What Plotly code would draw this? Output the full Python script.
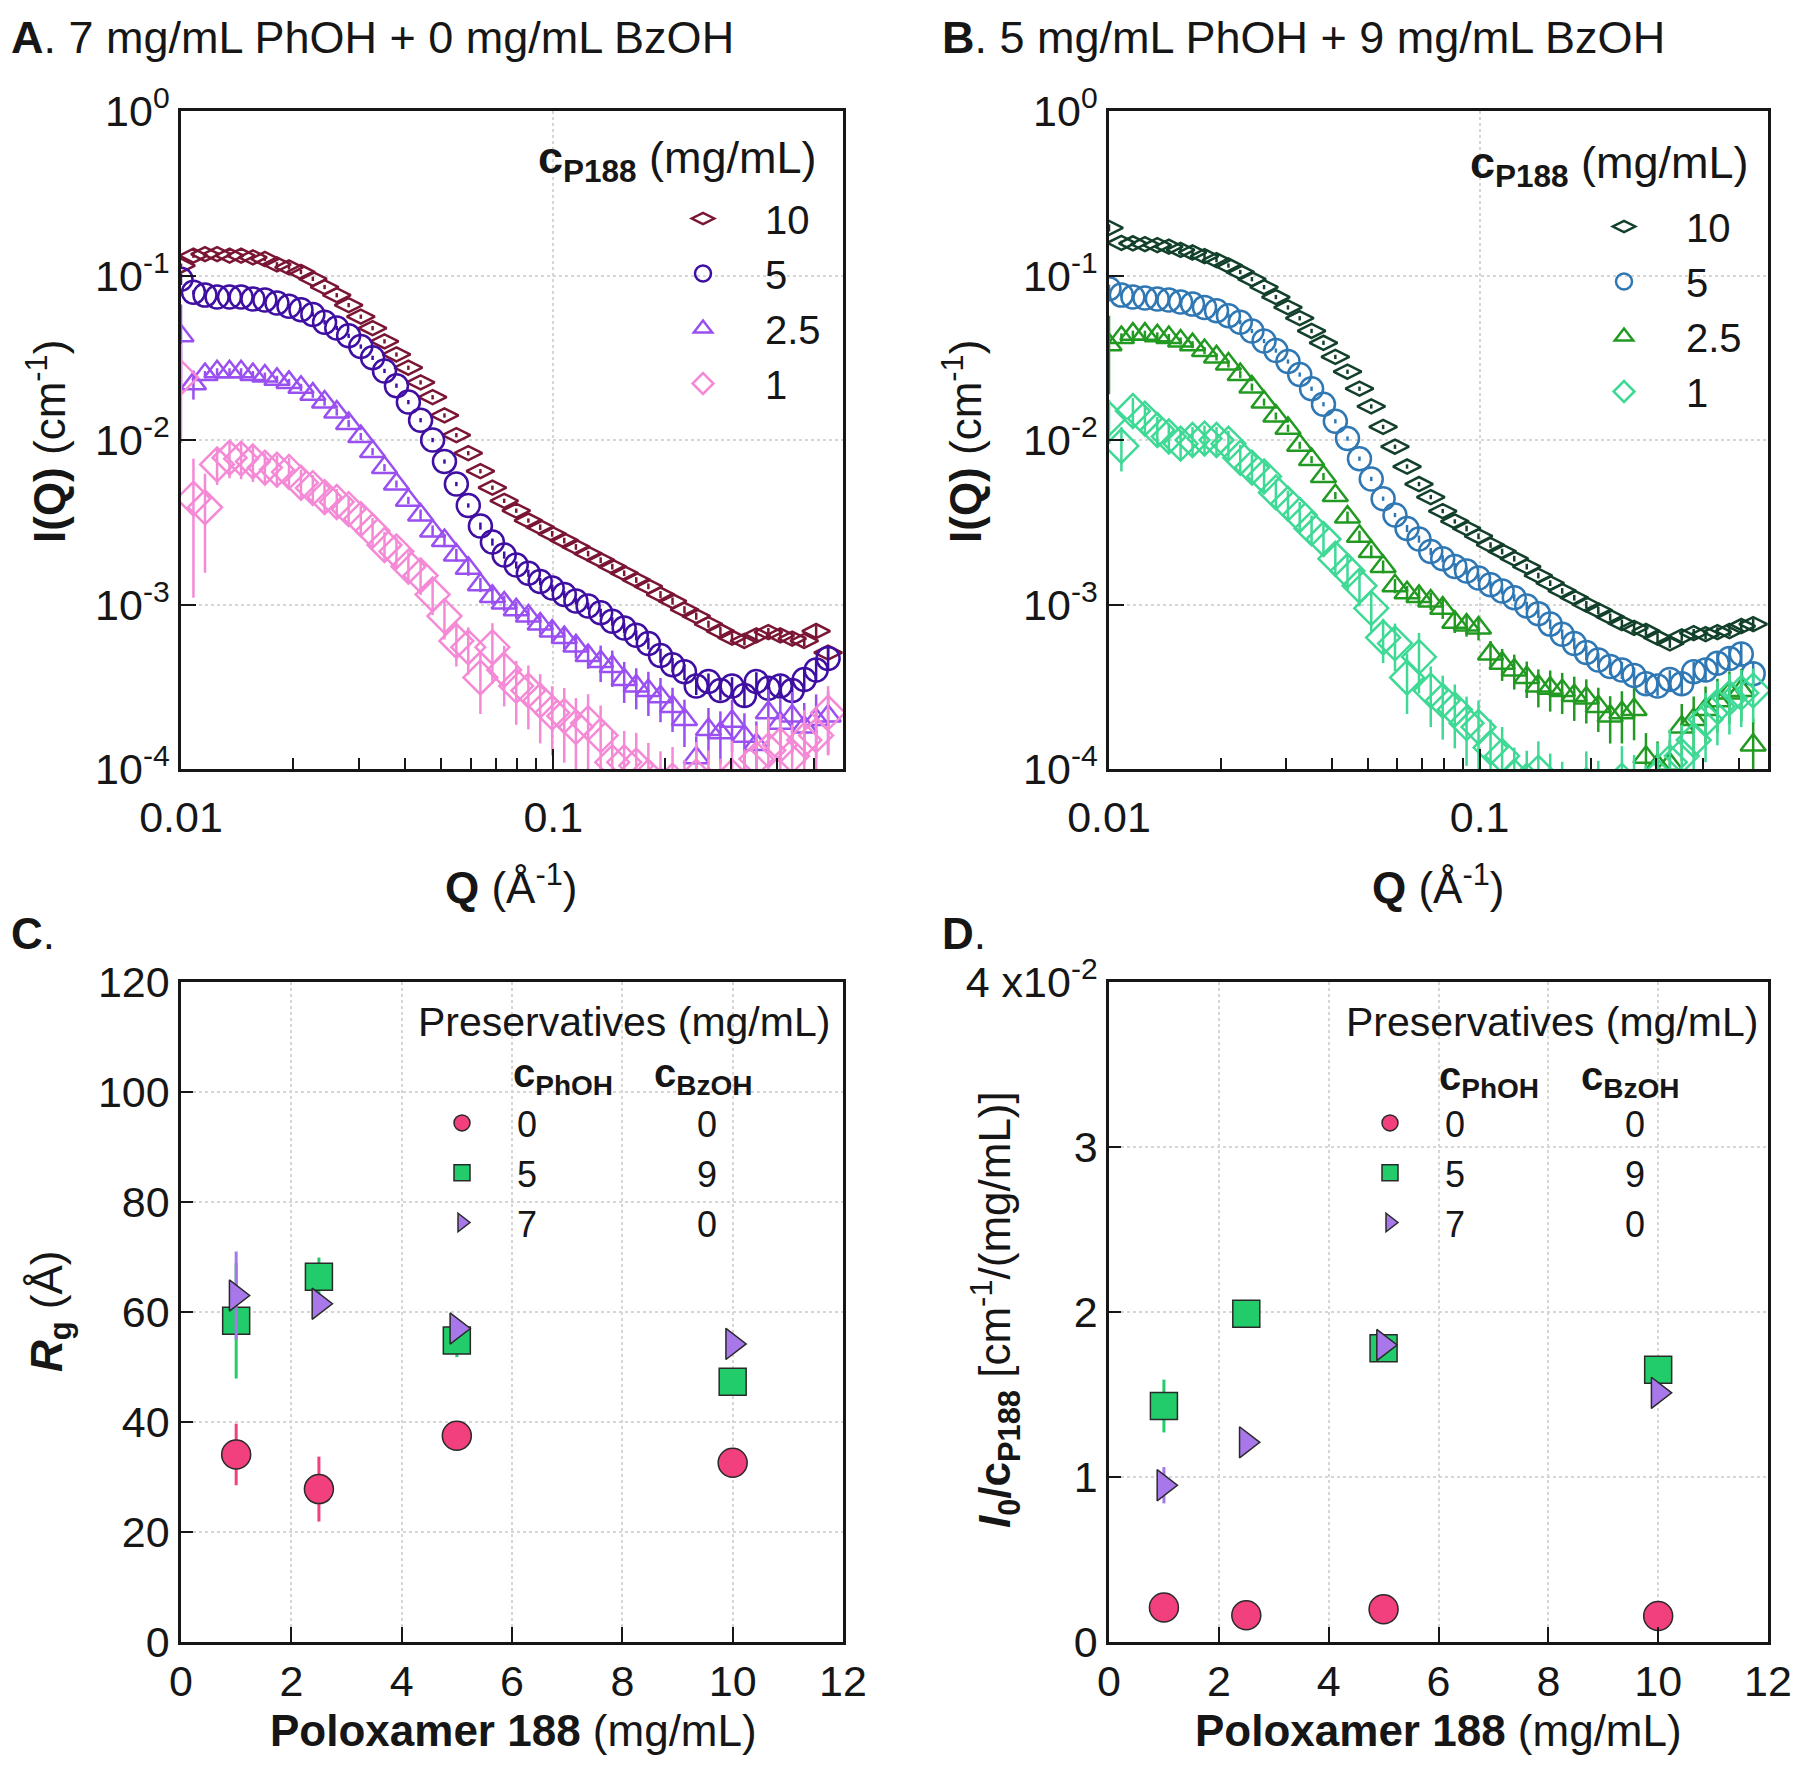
import plotly.graph_objects as go

# ---------------- data ----------------
q_values = [0.0100, 0.0108, 0.0116, 0.0125, 0.0135, 0.0145, 0.0156, 0.0168, 0.0181, 0.0195,
            0.0210, 0.0226, 0.0243, 0.0262, 0.0282, 0.0304, 0.0327, 0.0352, 0.0379, 0.0408,
            0.0440, 0.0474, 0.0510, 0.0549, 0.0591, 0.0637, 0.0686, 0.0738, 0.0795, 0.0857,
            0.0922, 0.0993, 0.107, 0.115, 0.124, 0.134, 0.144, 0.155, 0.167, 0.180,
            0.194, 0.209, 0.225, 0.242, 0.261, 0.281, 0.302, 0.326, 0.351, 0.378,
            0.407, 0.438, 0.472, 0.508, 0.547]

# panel A: 7 mg/mL PhOH + 0 mg/mL BzOH
a_i10 = [0.115, 0.132, 0.135, 0.135, 0.132, 0.132, 0.129, 0.126, 0.117, 0.112,
         0.105, 0.0955, 0.0851, 0.0759, 0.0661, 0.0562, 0.0479, 0.0398, 0.0331, 0.0275,
         0.0224, 0.0182, 0.0141, 0.0107, 0.00832, 0.00646, 0.00513, 0.00427, 0.00372, 0.00324,
         0.00295, 0.00269, 0.00245, 0.00224, 0.00204, 0.00186, 0.00170, 0.00155, 0.00141, 0.00129,
         0.00115, 0.00105, 0.00093, 0.00085, 0.00076, 0.00069, 0.00063, 0.00060, 0.00065, 0.00068,
         0.00065, 0.00062, 0.00060, 0.00069, 0.00051]
a_i5 = [0.095, 0.079, 0.076, 0.074, 0.074, 0.074, 0.072, 0.071, 0.068, 0.065,
        0.062, 0.058, 0.052, 0.048, 0.043, 0.037, 0.0316, 0.0263, 0.0214, 0.0170,
        0.0132, 0.0100, 0.0074, 0.0054, 0.0040, 0.0030, 0.0024, 0.0020, 0.00174, 0.00155,
        0.00138, 0.00126, 0.00115, 0.00105, 0.00098, 0.00089, 0.00079, 0.00072, 0.00065, 0.00058,
        0.00049, 0.00043, 0.00039, 0.00032, 0.00034, 0.00030, 0.00032, 0.00028, 0.00034, 0.00031,
        0.00032, 0.00030, 0.00035, 0.00040, 0.00047]
a_i25 = [0.043, 0.022, 0.025, 0.026, 0.026, 0.026, 0.025, 0.0245, 0.0234, 0.0224,
         0.0209, 0.0190, 0.0170, 0.0148, 0.0126, 0.0105, 0.0085, 0.0068, 0.0054, 0.0043,
         0.0035, 0.0028, 0.00245, 0.0020, 0.00166, 0.00132, 0.00112, 0.00102, 0.00093, 0.00085,
         0.00076, 0.00069, 0.00063, 0.00056, 0.00049, 0.00045, 0.00042, 0.00035, 0.00032, 0.00030,
         0.000275, 0.00024, 0.00020, 0.000117, 0.000174, 0.000166, 0.000195, 0.000158, 0.000141, 0.00022,
         0.00019, 0.00021, 0.00018, 0.00020, 0.00021]
a_i1 = [0.024, 0.0044, 0.0039, 0.0071, 0.0078, 0.0077, 0.0074, 0.0068, 0.0066, 0.0064,
        0.0055, 0.0051, 0.0045, 0.0042, 0.0038, 0.0033, 0.0028, 0.0023, 0.0021, 0.0017,
        0.0015, 0.00115, 0.00085, 0.00060, 0.00055, 0.00036, 0.00055, 0.00040, 0.00032, 0.00030,
        0.00026, 0.00022, 0.00021, 0.00018, 0.00019, 0.00016, 0.00011, 0.00011, 0.000105, 0.00009,
        0.00008, 0.000085, 0.00007, 0.00009, 0.00008, 0.00007, 0.00009, 0.00008, 0.000115, 0.00013,
        0.00014, 0.00012, 0.00015, 0.00016, 0.00022]

# relative error of each point
a_rel10 = [0.03, 0.03, 0.03, 0.03, 0.03, 0.03, 0.03, 0.03, 0.03, 0.03,
           0.03, 0.03, 0.03, 0.03, 0.03, 0.03, 0.03, 0.03, 0.03, 0.03,
           0.03, 0.03, 0.03, 0.03, 0.03, 0.03, 0.03, 0.03, 0.03, 0.03,
           0.04, 0.04, 0.04, 0.04, 0.04, 0.04, 0.04, 0.04, 0.04, 0.04,
           0.05, 0.05, 0.05, 0.05, 0.05, 0.06, 0.06, 0.06, 0.06, 0.06,
           0.07, 0.07, 0.07, 0.08, 0.08]
a_rel5 = [0.08, 0.03, 0.03, 0.03, 0.03, 0.03, 0.03, 0.03, 0.03, 0.03,
          0.03, 0.03, 0.03, 0.03, 0.03, 0.03, 0.03, 0.03, 0.03, 0.03,
          0.03, 0.03, 0.03, 0.03, 0.03, 0.05, 0.05, 0.05, 0.05, 0.05,
          0.05, 0.05, 0.05, 0.05, 0.05, 0.06, 0.06, 0.07, 0.07, 0.08,
          0.10, 0.10, 0.11, 0.12, 0.12, 0.13, 0.13, 0.14, 0.14, 0.15,
          0.15, 0.15, 0.16, 0.16, 0.16]
a_rel25 = [0.55, 0.20, 0.05, 0.05, 0.05, 0.05, 0.05, 0.05, 0.05, 0.05,
           0.05, 0.05, 0.05, 0.05, 0.05, 0.05, 0.05, 0.05, 0.05, 0.05,
           0.08, 0.08, 0.09, 0.09, 0.10, 0.10, 0.11, 0.11, 0.12, 0.12,
           0.13, 0.14, 0.15, 0.16, 0.17, 0.25, 0.25, 0.28, 0.28, 0.30,
           0.30, 0.30, 0.32, 0.35, 0.35, 0.35, 0.35, 0.38, 0.38, 0.38,
           0.40, 0.40, 0.40, 0.42, 0.42]
a_rel1 = [0.60, 0.75, 0.60, 0.25, 0.25, 0.25, 0.25, 0.22, 0.22, 0.22,
          0.20, 0.20, 0.20, 0.20, 0.20, 0.20, 0.20, 0.20, 0.22, 0.22,
          0.24, 0.25, 0.28, 0.30, 0.32, 0.40, 0.40, 0.40, 0.42, 0.42,
          0.45, 0.45, 0.48, 0.50, 0.50, 0.52, 0.55, 0.55, 0.58, 0.60,
          0.60, 0.60, 0.62, 0.62, 0.62, 0.65, 0.65, 0.65, 0.60, 0.58,
          0.55, 0.55, 0.52, 0.50, 0.45]

# panel B: 5 mg/mL PhOH + 9 mg/mL BzOH
b_i10 = [0.195, 0.158, 0.157, 0.155, 0.153, 0.150, 0.143, 0.138, 0.131, 0.124,
         0.115, 0.105, 0.095, 0.085, 0.074, 0.064, 0.055, 0.046, 0.039, 0.032,
         0.026, 0.0205, 0.0160, 0.0120, 0.0091, 0.0069, 0.0054, 0.0045, 0.0037, 0.0032,
         0.0029, 0.0026, 0.0023, 0.0021, 0.0019, 0.0017, 0.0015, 0.00135, 0.00121, 0.00110,
         0.00100, 0.00092, 0.00084, 0.00077, 0.00072, 0.00069, 0.00063, 0.00058, 0.00064, 0.00067,
         0.00066, 0.00068, 0.00069, 0.00074, 0.00076]
b_i5 = [0.083, 0.076, 0.074, 0.073, 0.072, 0.071, 0.069, 0.067, 0.064, 0.061,
        0.057, 0.052, 0.046, 0.040, 0.035, 0.030, 0.025, 0.0205, 0.0165, 0.0130,
        0.0102, 0.0077, 0.0058, 0.0044, 0.0035, 0.0029, 0.0025, 0.0021, 0.0019, 0.0017,
        0.0016, 0.00145, 0.00132, 0.00121, 0.00110, 0.00098, 0.00088, 0.00076, 0.00066, 0.00058,
        0.00051, 0.00046, 0.00042, 0.00040, 0.00037, 0.00033, 0.00032, 0.00035, 0.00033, 0.00039,
        0.00040, 0.00044, 0.00047, 0.00050, 0.00038]
b_i25 = [0.038, 0.042, 0.044, 0.044, 0.043, 0.042, 0.040, 0.038, 0.035, 0.032,
         0.029, 0.025, 0.021, 0.017, 0.0140, 0.0118, 0.0093, 0.0076, 0.0060, 0.0046,
         0.0034, 0.0026, 0.0021, 0.0017, 0.0013, 0.00118, 0.00112, 0.00105, 0.00095, 0.00078,
         0.00075, 0.00072, 0.00050, 0.00044, 0.00040, 0.00036, 0.00032, 0.00031, 0.00030, 0.00028,
         0.00027, 0.00024, 0.00021, 0.00022, 0.00023, 0.000118, 0.000105, 0.000107, 0.00018, 0.00020,
         0.00023, 0.00026, 0.00029, 0.00030, 0.00014]
b_i1 = [0.0135, 0.0092, 0.0150, 0.0135, 0.0115, 0.0105, 0.0095, 0.0100, 0.0102, 0.0100,
        0.0095, 0.0078, 0.0068, 0.0060, 0.0048, 0.0041, 0.0035, 0.0029, 0.0025, 0.0019,
        0.0016, 0.0013, 0.00095, 0.00063, 0.00058, 0.00036, 0.00048, 0.00030, 0.00026, 0.00023,
        0.00019, 0.00018, 0.000135, 0.000120, 0.000090, 0.000085, 0.000095, 0.000080, 0.000070, 0.000060,
        0.000080, 0.000070, 0.000060, 0.000085, 0.000075, 0.000065, 0.000090, 0.000110, 0.000120, 0.000150,
        0.000200, 0.000240, 0.000270, 0.000290, 0.000300]

b_rel10 = [0.05, 0.03, 0.03, 0.03, 0.03, 0.03, 0.03, 0.03, 0.03, 0.03,
           0.03, 0.03, 0.03, 0.03, 0.03, 0.03, 0.03, 0.03, 0.03, 0.03,
           0.03, 0.03, 0.03, 0.03, 0.03, 0.03, 0.03, 0.03, 0.03, 0.03,
           0.04, 0.04, 0.04, 0.04, 0.04, 0.04, 0.04, 0.04, 0.04, 0.04,
           0.05, 0.05, 0.05, 0.05, 0.05, 0.06, 0.06, 0.06, 0.06, 0.06,
           0.07, 0.07, 0.07, 0.08, 0.08]
b_rel5 = [0.06, 0.03, 0.03, 0.03, 0.03, 0.03, 0.03, 0.03, 0.03, 0.03,
          0.03, 0.03, 0.03, 0.03, 0.03, 0.03, 0.03, 0.03, 0.03, 0.03,
          0.03, 0.03, 0.03, 0.03, 0.03, 0.05, 0.05, 0.05, 0.05, 0.05,
          0.05, 0.05, 0.05, 0.05, 0.05, 0.06, 0.06, 0.07, 0.07, 0.08,
          0.10, 0.10, 0.11, 0.12, 0.12, 0.13, 0.13, 0.14, 0.14, 0.15,
          0.15, 0.15, 0.16, 0.16, 0.18]
b_rel25 = [0.50, 0.06, 0.05, 0.05, 0.05, 0.05, 0.05, 0.05, 0.05, 0.05,
           0.05, 0.05, 0.05, 0.05, 0.05, 0.05, 0.05, 0.05, 0.05, 0.05,
           0.08, 0.08, 0.09, 0.09, 0.10, 0.10, 0.12, 0.12, 0.14, 0.14,
           0.15, 0.16, 0.20, 0.22, 0.24, 0.25, 0.26, 0.28, 0.28, 0.30,
           0.30, 0.30, 0.32, 0.35, 0.35, 0.40, 0.40, 0.40, 0.38, 0.38,
           0.38, 0.36, 0.35, 0.35, 0.45]
b_rel1 = [0.30, 0.30, 0.20, 0.20, 0.20, 0.20, 0.20, 0.20, 0.20, 0.20,
          0.20, 0.20, 0.20, 0.20, 0.20, 0.20, 0.20, 0.20, 0.22, 0.22,
          0.24, 0.25, 0.28, 0.30, 0.32, 0.40, 0.40, 0.40, 0.42, 0.42,
          0.45, 0.45, 0.48, 0.50, 0.50, 0.52, 0.55, 0.55, 0.58, 0.60,
          0.60, 0.60, 0.62, 0.62, 0.62, 0.62, 0.60, 0.58, 0.55, 0.50,
          0.45, 0.42, 0.40, 0.38, 0.36]

# panels C and D: fitted parameters versus poloxamer 188 concentration
p188_conc = [1, 2.5, 5, 10]
rg_phoh0_bzoh0 = [34.1, 27.8, 37.5, 32.6]
rg_phoh0_bzoh0_err = [5.6, 5.9, 0.8, 0.8]
rg_phoh5_bzoh9 = [58.4, 66.4, 54.8, 47.3]
rg_phoh5_bzoh9_err = [10.5, 3.5, 3.0, 1.0]
rg_phoh7_bzoh0 = [63.0, 61.5, 57.0, 54.2]
rg_phoh7_bzoh0_err = [8.0, 1.5, 1.0, 0.8]

i0c_phoh0_bzoh0 = [0.209, 0.162, 0.199, 0.158]
i0c_phoh0_bzoh0_err = [0.01, 0.01, 0.01, 0.01]
i0c_phoh5_bzoh9 = [1.43, 1.99, 1.78, 1.65]
i0c_phoh5_bzoh9_err = [0.16, 0.03, 0.03, 0.02]
i0c_phoh7_bzoh0 = [0.95, 1.21, 1.80, 1.51]
i0c_phoh7_bzoh0_err = [0.11, 0.02, 0.03, 0.02]

# ---------------- styling ----------------
# the page body keeps its default 8 px margin, so the figure is made 16 px
# smaller and all positions below are given in window pixels
OFF = 8
W, H = 1800 - 2 * OFF, 1787 - 2 * OFF
FONT = "Liberation Sans, Arial, sans-serif"
INK = "#161616"


def px_x(x):
    return (x - OFF) / W


def px_y(y):
    return 1 - (y - OFF) / H


def saxs(q, inten, rel, name, symbol, size, color, xa, ya, legend):
    return go.Scatter(
        x=q, y=inten, mode="markers", name=name, legend=legend, xaxis=xa, yaxis=ya,
        marker=dict(symbol=symbol, size=size, color=color, line=dict(color=color, width=2.5)),
        error_y=dict(type="data", array=[v * r for v, r in zip(inten, rel)],
                     color=color, thickness=2.5, width=0),
    )


def fitted(y, err, name, symbol, size, color, xa, ya, legend):
    return go.Scatter(
        x=p188_conc, y=y, mode="markers", name=name, legend=legend, xaxis=xa, yaxis=ya,
        marker=dict(symbol=symbol, size=size, color=color, line=dict(color="#2a2a2a", width=1.5)),
        error_y=dict(type="data", array=err, color=color, thickness=3, width=0),
    )


fig = go.Figure()

# A
fig.add_trace(saxs(q_values, a_i10, a_rel10, "10", "diamond-wide-open", 20, "#7a1634", "x", "y", "legend"))
fig.add_trace(saxs(q_values, a_i5, a_rel5, "5", "circle-open", 23, "#3f0ea2", "x", "y", "legend"))
fig.add_trace(saxs(q_values, a_i25, a_rel25, "2.5", "triangle-up-open", 22, "#9a4ff0", "x", "y", "legend"))
fig.add_trace(saxs(q_values, a_i1, a_rel1, "1", "diamond-open", 26, "#f48ad6", "x", "y", "legend"))

# B
fig.add_trace(saxs(q_values, b_i10, b_rel10, "10", "diamond-wide-open", 20, "#12402a", "x2", "y2", "legend2"))
fig.add_trace(saxs(q_values, b_i5, b_rel5, "5", "circle-open", 23, "#2f78b4", "x2", "y2", "legend2"))
fig.add_trace(saxs(q_values, b_i25, b_rel25, "2.5", "triangle-up-open", 22, "#229a22", "x2", "y2", "legend2"))
fig.add_trace(saxs(q_values, b_i1, b_rel1, "1", "diamond-open", 26, "#3ed995", "x2", "y2", "legend2"))

gap = "\u00a0" * 16
# C
fig.add_trace(fitted(rg_phoh0_bzoh0, rg_phoh0_bzoh0_err, "0" + gap + "0", "circle", 29, "#f23f7e", "x3", "y3", "legend3"))
fig.add_trace(fitted(rg_phoh5_bzoh9, rg_phoh5_bzoh9_err, "5" + gap + "9", "square", 27, "#22cc6a", "x3", "y3", "legend3"))
fig.add_trace(fitted(rg_phoh7_bzoh0, rg_phoh7_bzoh0_err, "7" + gap + "0", "triangle-right", 27, "#a878ea", "x3", "y3", "legend3"))
# D
fig.add_trace(fitted(i0c_phoh0_bzoh0, i0c_phoh0_bzoh0_err, "0" + gap + "0", "circle", 29, "#f23f7e", "x4", "y4", "legend4"))
fig.add_trace(fitted(i0c_phoh5_bzoh9, i0c_phoh5_bzoh9_err, "5" + gap + "9", "square", 27, "#22cc6a", "x4", "y4", "legend4"))
fig.add_trace(fitted(i0c_phoh7_bzoh0, i0c_phoh7_bzoh0_err, "7" + gap + "0", "triangle-right", 27, "#a878ea", "x4", "y4", "legend4"))

base_axis = dict(
    showline=True, linecolor=INK, linewidth=2.5, mirror=True,
    ticks="inside", tickcolor=INK, tickwidth=2,
    showgrid=True, gridcolor="#d6d6d6", griddash="dot", gridwidth=1.5,
    zeroline=False, automargin=False, tickfont=dict(size=43, color=INK, family=FONT),
)

col_left = [px_x(181), px_x(843)]
col_right = [px_x(1109), px_x(1768)]
row_top = [px_y(769), px_y(111)]
row_bot = [px_y(1642), px_y(982)]

q_minor = [0.02, 0.03, 0.04, 0.05, 0.06, 0.07, 0.08, 0.09, 0.2, 0.3, 0.4, 0.5]
log_x = dict(base_axis, type="log", range=[-2, -0.222], tickmode="array",
             tickvals=[0.01, 0.1], ticktext=["0.01", "0.1"], ticklen=20, ticklabelstandoff=9,
             minor=dict(ticks="inside", ticklen=11, tickwidth=2, tickcolor=INK,
                        tickvals=q_minor, showgrid=False))
log_y = dict(base_axis, type="log", range=[-4, 0], tickmode="array",
             tickvals=[1, 0.1, 0.01, 0.001, 0.0001],
             ticktext=["10<sup>0</sup>", "10<sup>-1</sup>", "10<sup>-2</sup>", "10<sup>-3</sup>", "10<sup>-4</sup>"],
             ticklen=15, ticklabelstandoff=0)
lin_x = dict(base_axis, range=[0, 12], tickmode="array", tickvals=[0, 2, 4, 6, 8, 10, 12],
             ticklen=15, ticklabelstandoff=0)

fig.update_layout(
    width=W, height=H, autosize=False,
    margin=dict(l=0, r=0, t=0, b=0, pad=0, autoexpand=False),
    paper_bgcolor="white", plot_bgcolor="white",
    font=dict(family=FONT, color=INK, size=40),
    xaxis=dict(log_x, domain=col_left, anchor="y"),
    yaxis=dict(log_y, domain=row_top, anchor="x"),
    xaxis2=dict(log_x, domain=col_right, anchor="y2"),
    yaxis2=dict(log_y, domain=row_top, anchor="x2"),
    xaxis3=dict(lin_x, domain=col_left, anchor="y3"),
    yaxis3=dict(base_axis, domain=row_bot, anchor="x3", range=[0, 120], tickmode="array",
                tickvals=[0, 20, 40, 60, 80, 100, 120], ticklen=12, ticklabelstandoff=0),
    xaxis4=dict(lin_x, domain=col_right, anchor="y4"),
    yaxis4=dict(base_axis, domain=row_bot, anchor="x4", range=[0, 4], tickmode="array",
                tickvals=[0, 1, 2, 3, 4], ticktext=["0", "1", "2", "3", "4 x10<sup>-2</sup>"],
                ticklen=12, ticklabelstandoff=0),
)

legend_common = dict(xanchor="left", yanchor="top", bgcolor="rgba(0,0,0,0)",
                     tracegroupgap=0, traceorder="normal")
fig.update_layout(
    legend=dict(legend_common, x=px_x(641), y=px_y(186), itemwidth=114,
                font=dict(size=40, family=FONT, color=INK)),
    legend2=dict(legend_common, x=px_x(1562), y=px_y(194), itemwidth=114,
                 font=dict(size=40, family=FONT, color=INK)),
    legend3=dict(legend_common, x=px_x(407), y=px_y(1093), itemwidth=100,
                 font=dict(size=36, family=FONT, color=INK)),
    legend4=dict(legend_common, x=px_x(1335), y=px_y(1093), itemwidth=100,
                 font=dict(size=36, family=FONT, color=INK)),
)


def note(text, x, y, size, xanchor="left", angle=0):
    return dict(text=text, x=px_x(x), y=px_y(y), xref="paper", yref="paper", showarrow=False,
                xanchor=xanchor, yanchor="middle", textangle=angle,
                font=dict(size=size, family=FONT, color=INK))


cp188 = "<b>c</b><sub><b>P188</b></sub> (mg/mL)"
iq_title = "<b>I(Q)</b> (cm<sup>-1</sup>)"
q_title = "<b>Q</b> (Å<sup>-1</sup>)"
p_title = "<b>Poloxamer 188</b> (mg/mL)"
annotations = [
    note("<b>A</b>. 7 mg/mL PhOH + 0 mg/mL BzOH", 9, 38, 45),
    note("<b>B</b>. 5 mg/mL PhOH + 9 mg/mL BzOH", 940, 38, 45),
    note("<b>C</b>.", 9, 934, 44),
    note("<b>D</b>.", 940, 934, 44),
    note(iq_title, 46, 442, 44, "center", -90),
    note(iq_title, 962, 442, 44, "center", -90),
    note(q_title, 512, 884, 44, "center"),
    note(q_title, 1438, 884, 44, "center"),
    note("<b><i>R</i><sub>g</sub></b> (Å)", 50, 1312, 44, "center", -90),
    note("<b><i>I</i><sub>0</sub>/c<sub>P188</sub></b> [cm<sup>-1</sup>/(mg/mL)]", 995, 1310, 44, "center", -90),
    note(p_title, 513, 1730, 44, "center"),
    note(p_title, 1438, 1730, 44, "center"),
    note(cp188, 819, 161, 45, "right"),
    note(cp188, 1751, 166, 45, "right"),
    note("Preservatives (mg/mL)", 832, 1022, 41, "right"),
    note("Preservatives (mg/mL)", 1760, 1022, 41, "right"),
    note("<b>c<sub>PhOH</sub></b>", 511, 1076, 40),
    note("<b>c<sub>BzOH</sub></b>", 652, 1076, 40),
    note("<b>c<sub>PhOH</sub></b>", 1437, 1079, 40),
    note("<b>c<sub>BzOH</sub></b>", 1579, 1079, 40),
]
fig.update_layout(annotations=annotations)

fig.write_html("out.html")
